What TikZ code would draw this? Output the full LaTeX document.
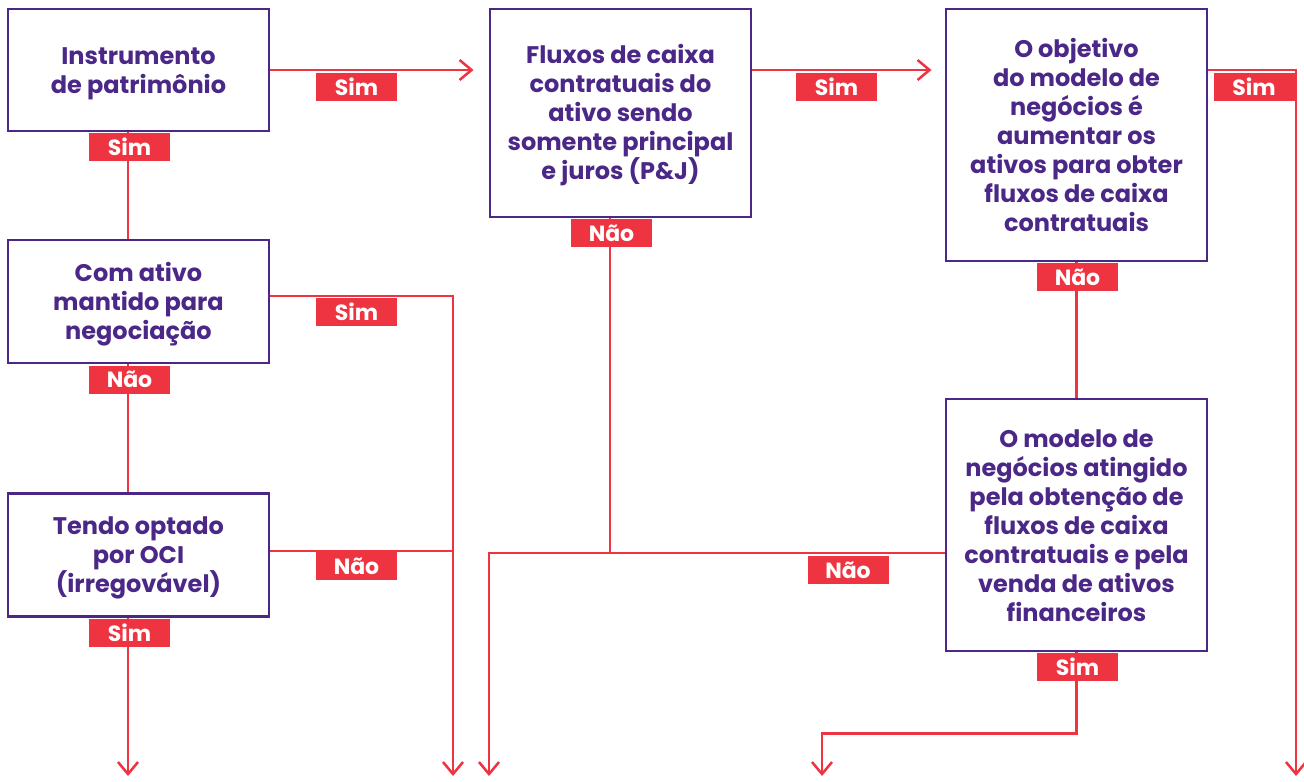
\documentclass[tikz,border=0pt]{standalone}
\usepackage{fontspec}
\setmainfont{Poppins}
\usetikzlibrary{arrows.meta,calc}
\definecolor{bpurple}{RGB}{75,40,135}
\definecolor{bred}{RGB}{238,52,64}
\begin{document}
\begin{tikzpicture}[x=0.75pt,y=-0.75pt,
  box/.style={draw=bpurple,line width=2.2pt,fill=white,
    minimum width=195.75pt,inner sep=0pt},
  boxtext/.style={text=bpurple,align=center,inner sep=0pt,
    font=\bfseries\fontsize{18}{21.75}\selectfont},
  lab/.style={fill=bred,text=white,minimum width=60.75pt,minimum height=21pt,inner sep=0pt,
    font=\bfseries\fontsize{16.5}{18}\selectfont},
  conn/.style={draw=bred,line width=1.9pt},
  arr/.style={conn,-{Straight Barb[length=9pt,width=15pt,line width=1.9pt]}}]
\useasboundingbox (0,0) rectangle (1304,782);
% boxes
\node[box,minimum height=91.5pt] (b1) at (138.5,70) {};
\node[box,minimum height=92.25pt] (b4) at (138.5,301.5) {};
\node[box,minimum height=92.25pt] (b6) at (138.5,555) {};
\node[box,minimum height=156pt] (b2) at (620.5,113) {};
\node[box,minimum height=189pt] (b3) at (1076.5,135) {};
\node[box,minimum height=189pt] (b5) at (1076.5,525) {};
\node[boxtext] (t1) at ([yshift=-2.5pt]b1) {Instrumento\\de patrimônio};
\node[boxtext] (t4) at ([yshift=-2pt]b4) {Com ativo\\mantido para\\negociação};
\node[boxtext] (t6) at ([yshift=-2pt]b6) {Tendo optado\\por OCI\\(irregovável)};
\node[boxtext] (t2) at ([yshift=-1.5pt]b2) {Fluxos de caixa\\contratuais do\\ativo sendo\\somente principal\\e juros (P\&J)};
\node[boxtext] (t3) at ([yshift=0pt]b3) {O objetivo\\do modelo de\\negócios é\\aumentar os\\ativos para obter\\fluxos de caixa\\contratuais};
\node[boxtext] (t5) at ([yshift=-0.5pt]b5) {O modelo de\\negócios atingido\\pela obtenção de\\fluxos de caixa\\contratuais e pela\\venda de ativos\\financeiros};
% helper coordinates
\coordinate (e6) at (128,776);
\coordinate (e4) at (453,776);
\coordinate (e2) at (489,776);
\coordinate (e5) at (822,776);
\coordinate (e3) at (1296,776);
\coordinate (j2) at (610,553);
% connectors
\draw[arr] (b1.east) -- ([xshift=-11.25pt]b1.east -| b2.west);
\draw[arr] (b2.east |- b1.east) -- ([xshift=-9.75pt]b1.east -| b3.west);
\draw[arr] (b3.east |- b1.east) -| (e3);
\draw[conn] (b1.south -| e6) -- (b4.north -| e6);
\draw[conn] (b4.south -| e6) -- (b6.north -| e6);
\draw[arr] (b6.south -| e6) -- (e6);
\draw[arr] ([yshift=4.1pt]b4.east) -| (e4);
\draw[conn] ([yshift=3pt]b6.east) -- ([yshift=3pt]b6.east -| e4);
\draw[conn] (b2.south -| j2) -- (j2);
\draw[arr] (b5.west |- j2) -| (e2);
\draw[conn] (b3.south) -- (b5.north);
\draw[arr] (b5.south) -- ++(0,81) -| (e5);
% labels
\node[lab] (l1) at (129.5,146.5) {Sim};
\node[lab] (l2) at (356.5,87) {Sim};
\node[lab] (l3) at (129.5,379.5) {Não};
\node[lab] (l4) at (356.5,312) {Sim};
\node[lab] (l5) at (356.5,566) {Não};
\node[lab] (l6) at (129.5,632.5) {Sim};
\node[lab] (l7) at (611.5,233) {Não};
\node[lab] (l8) at (836.5,87) {Sim};
\node[lab] (l9) at (1254,87) {Sim};
\node[lab] (l10) at (1077.5,277) {Não};
\node[lab] (l11) at (848,570) {Não};
\node[lab] (l12) at (1077.5,667) {Sim};
\end{tikzpicture}
\end{document}
